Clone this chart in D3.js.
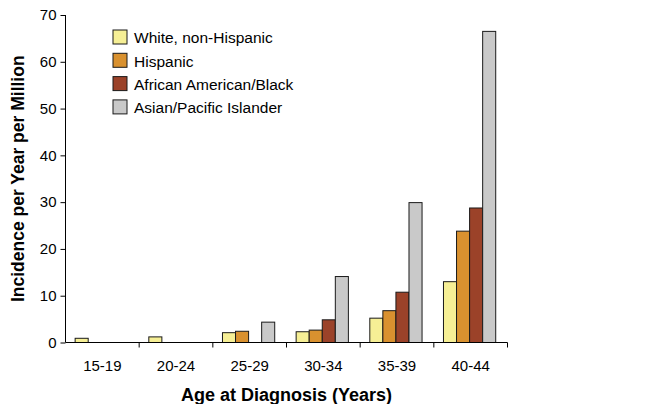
<!DOCTYPE html>
<html><head><meta charset="utf-8">
<script src="https://cdn.jsdelivr.net/npm/d3@7"></script>
<style>body{margin:0;background:#fff}svg{display:block;font-family:"Liberation Sans",Arial,sans-serif}</style>
</head><body><svg id="c" width="649" height="404"></svg>
<script>
const categories = ["15-19","20-24","25-29","30-34","35-39","40-44"];
const seriesNames = ["White, non-Hispanic","Hispanic","African American/Black","Asian/Pacific Islander"];
const white = [0.9, 1.2, 2.1, 2.3, 5.2, 13.0];
const hispanic = [0, 0, 2.4, 2.65, 6.8, 23.8];
const black = [0, 0, 0, 4.85, 10.75, 28.75];
const asian = [0, 0, 4.35, 14.1, 29.9, 66.5];
const yTicks = [0,10,20,30,40,50,60,70];
const colors = ["#F6EF95","#D9912F","#9B4229","#C9C9C9"];
const series = [white, hispanic, black, asian];

const svg = d3.select("#c");
const FF = "Liberation Sans, Arial, sans-serif";
const left = 65.5, right = 507.5, y0px = 342.5, y70px = 15;
const x = d3.scaleBand().domain(categories).range([left, right]).paddingInner(0).paddingOuter(0);
const x1 = d3.scaleBand().domain(d3.range(4)).range([0, x.bandwidth()]).paddingInner(0).paddingOuter(0.82).align(0.45);
const y = d3.scaleLinear().domain([0,70]).range([y0px, y70px]);

// bars
categories.forEach((c,i)=>{
  series.forEach((s,j)=>{
    const v = s[i];
    if (!v) return;
    svg.append("rect")
      .attr("x", x(c)+x1(j)).attr("y", y(v))
      .attr("width", x1.bandwidth()).attr("height", y(0)-y(v))
      .attr("fill", colors[j]).attr("stroke","#1a1a1a").attr("stroke-width",1);
  });
});

// y axis
const ya = svg.append("g").attr("transform",`translate(${left},0)`)
  .call(d3.axisLeft(y).tickValues(yTicks).tickSize(5).tickPadding(4));
ya.selectAll("text").attr("font-size",15).attr("fill","#000").attr("font-family",FF);
ya.select(".domain").attr("d",`M0,${y(70)}V${y(0)}`);

// x axis
const xa = svg.append("g").attr("transform",`translate(0,${y(0)})`);
xa.append("line").attr("x1",left).attr("x2",right).attr("stroke","#000");
const bounds = categories.map(c=>x(c)).slice(1).concat([right]);
xa.selectAll("line.tk").data(bounds).enter().append("line").attr("class","tk")
  .attr("x1",d=>d).attr("x2",d=>d).attr("y1",0).attr("y2",5).attr("stroke","#000");
xa.selectAll("text").data(categories).enter().append("text")
  .attr("x",d=>x(d)+x.bandwidth()/2).attr("y",28.5).attr("text-anchor","middle")
  .attr("font-size",15).attr("font-family",FF).text(d=>d);

// titles
svg.append("text").attr("x",(left+right)/2).attr("y",401).attr("text-anchor","middle")
  .attr("font-size",18).attr("font-weight","bold").text("Age at Diagnosis (Years)");
svg.append("text").attr("transform",`translate(24,${(y(0)+y(70))/2}) rotate(-90)`)
  .attr("text-anchor","middle").attr("font-size",17.5).attr("font-weight","bold")
  .text("Incidence per Year per Million");

// legend
const lg = svg.append("g").attr("transform","translate(113,30)");
seriesNames.forEach((n,j)=>{
  const g = lg.append("g").attr("transform",`translate(0,${j*23.3})`);
  g.append("rect").attr("width",14).attr("height",14).attr("fill",colors[j]).attr("stroke","#1a1a1a").attr("stroke-width",1);
  g.append("text").attr("x",21).attr("y",13.3).attr("font-size",15.5).text(n);
});
</script></body></html>
